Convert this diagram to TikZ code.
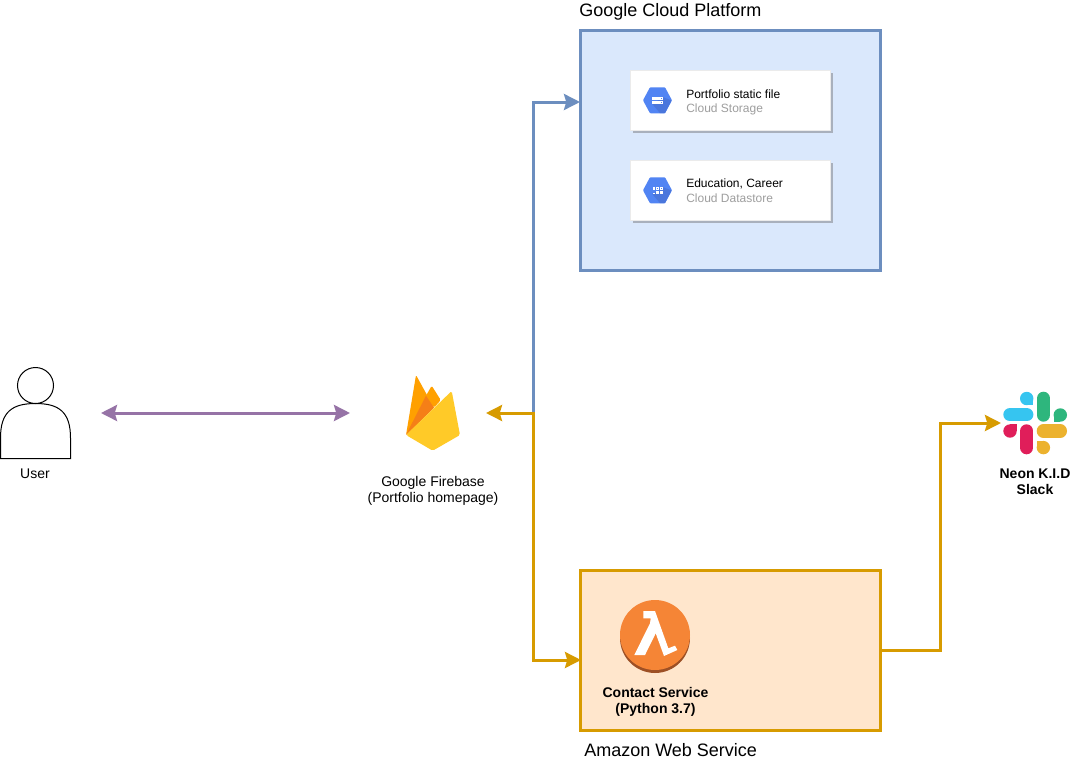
\documentclass[tikz,border=0pt]{standalone}
\usepackage{fontspec}
\setmainfont{Liberation Sans}
\usetikzlibrary{arrows.meta}
\definecolor{gcpfill}{HTML}{DAE8FC}
\definecolor{gcpline}{HTML}{6C8EBF}
\definecolor{awsfill}{HTML}{FFE6CC}
\definecolor{awsline}{HTML}{D79B00}
\definecolor{purp}{HTML}{9673A6}
\definecolor{hexblue}{HTML}{5184F3}
\definecolor{hexdark}{HTML}{4A76DC}
\definecolor{cardshadow}{HTML}{A9B0BC}
\definecolor{greytext}{HTML}{9E9E9E}
\definecolor{lamb}{HTML}{F58536}
\definecolor{lambdark}{HTML}{9D5025}
\definecolor{slackcyan}{HTML}{36C5F0}
\definecolor{slackgreen}{HTML}{2EB67D}
\definecolor{slackred}{HTML}{E01E5A}
\definecolor{slackyellow}{HTML}{ECB22E}
\definecolor{fbamber}{HTML}{FFA000}
\definecolor{fbdeep}{HTML}{F57F17}
\definecolor{fbyellow}{HTML}{FFCA28}
\tikzset{
  x=0.75pt,y=-0.75pt,
  conn/.style={line width=2.25pt,line join=miter},
  oneway/.style={conn,-{Stealth[length=12pt,width=12pt,inset=1.7pt]}},
  twoway/.style={conn,{Stealth[length=12pt,width=12pt,inset=1.7pt]}-{Stealth[length=12pt,width=12pt,inset=1.7pt]}},
  panel/.style={draw,line width=2.25pt,outer sep=0pt,inner sep=0pt,minimum width=225pt},
  card/.style={fill=white,draw=white!92!black,line width=0.4pt,outer sep=0pt,inner sep=0pt,minimum width=150pt,minimum height=45pt},
  shadowbox/.style={fill=cardshadow,draw=none,outer sep=0pt,inner sep=0pt,minimum width=150pt,minimum height=45pt},
  title/.style={font=\fontsize{13.5pt}{16pt}\selectfont,anchor=base west,inner sep=0pt},
  lbl/.style={font=\fontsize{10.5pt}{12pt}\selectfont,align=center,inner sep=0pt},
  boldlbl/.style={font=\fontsize{10.5pt}{12pt}\selectfont\bfseries,align=center,inner sep=0pt},
  cardtop/.style={font=\fontsize{9pt}{10pt}\selectfont,anchor=base west,inner sep=0pt},
  cardsub/.style={font=\fontsize{9pt}{10pt}\selectfont,anchor=base west,inner sep=0pt,text=greytext},
  ghost/.style={inner sep=0pt,outer sep=0pt},
  pill/.style={line width=10.05pt,line cap=round},
}
\newcommand{\hexbase}{%
  \fill[hexblue,rounded corners=0.6pt] (643,100.3)--(650,87.3)--(665,87.3)--(672,100.3)--(665,113.3)--(650,113.3)--cycle;
  \fill[hexdark] (663,97.3)--(671.5,100.3)--(665,113.1)--(660,113.1)--(652.3,104)--cycle;
}
\begin{document}
\begin{tikzpicture}
\useasboundingbox (0,0) rectangle (1071,761);
\fill[white] (0,0) rectangle (1071,761);

% panels
\node[panel,draw=gcpline,fill=gcpfill,minimum height=180pt] (gcp) at (730.5,150.5) {};
\node[panel,draw=awsline,fill=awsfill,minimum height=120pt] (aws) at (730.5,650.5) {};
\node[title] (gcptitle) at (579,16) {Google Cloud Platform};
\node[title] (awstitle) at (584,756) {Amazon Web Service};

% cards
\node[shadowbox] (shadeA) at (732.5,103) {};
\node[card] (cardA) at (730.5,100.5) {};
\node[shadowbox] (shadeB) at (732.5,193) {};
\node[card] (cardB) at (730.5,190.5) {};
\hexbase
\fill[white] (652.3,97.3) rectangle (663,100.3);
\fill[white] (652.3,100.9) rectangle (663,104);
\fill[hexblue] (660.5,98.3) rectangle (661.7,99.3);
\fill[hexblue] (660.5,102) rectangle (661.7,103);
\begin{scope}[shift={(0,90)}]
\hexbase
\foreach \gx/\gy in {652.5/96.8,656.3/96.8,660.1/96.8,652.5/100.7,656.3/100.7,660.1/100.7}{
  \fill[white] (\gx,\gy) rectangle ++(2.8,2.8);
}
\fill[hexblue] (657,97.5) rectangle ++(1.4,1.4);
\fill[hexblue] (660.8,97.5) rectangle ++(1.4,1.4);
\fill[hexblue] (653.2,101.4) rectangle ++(1.4,1.4);
\end{scope}
\node[cardtop] (cardAtop) at (686,98) {Portfolio static file};
\node[cardsub] (cardAsub) at (686,112) {Cloud Storage};
\node[cardtop] (cardBtop) at (686,187.5) {Education, Career};
\node[cardsub] (cardBsub) at (686,202) {Cloud Datastore};

% user
\node[ghost,minimum width=53.25pt,minimum height=69pt] (user) at (35.5,413) {};
\draw[black,line width=0.75pt] (35.5,385.5) circle (18);
\draw[black,line width=0.75pt] (0.5,458.5) -- (0.5,438) .. controls (0.5,412) and (12,403.5) .. (35.5,403.5)
   .. controls (59,403.5) and (70.5,412) .. (70.5,438) -- (70.5,458.5) -- cycle;
\node[lbl] (userlbl) at (35,473.5) {User};

% firebase
\node[ghost,minimum width=102pt,minimum height=57pt] (fb) at (418,413) {};
\fill[fbamber,rounded corners=1pt] (406,435) -- (416,375) -- (434,407.7) -- cycle;
\fill[fbamber,rounded corners=1pt] (426,395.7) -- (431.7,385.7) -- (440.7,400) -- (434,407.7) -- cycle;
\fill[fbdeep] (406,435) -- (426,395.7) -- (434,407.7) -- cycle;
\fill[fbyellow,rounded corners=1.2pt] (406,435) -- (451.7,391) -- (460,435) -- (432.7,450.7) -- cycle;
\node[lbl] (fblbl) at (433,490.5) {Google Firebase\\(Portfolio homepage)};

% lambda
\node[ghost,minimum width=52.5pt,minimum height=52.5pt] (lambdaicon) at (655,636) {};
\fill[lambdark] (655,638) circle (35);
\fill[lamb] (655,635) circle (35);
\fill[white] (643.3,611) -- (655,611) -- (668.3,648.3) -- (675,645.7) -- (677.3,650) -- (664,656)
  -- (655.7,633.3) -- (645,655) -- (634.3,655) -- (650,623.3) -- (650.7,618.3) -- (643.3,618.3) -- cycle;
\node[boldlbl] (lamlbl) at (655.5,701.5) {Contact Service\\(Python 3.7)};

% slack
\node[ghost,minimum width=51pt,minimum height=48pt] (slack) at (1035,423) {};
\draw[pill,slackcyan] (1010,414.7) -- (1026.7,414.7);
\fill[slackcyan] (1026.7,398.5) circle (6.7);
\fill[slackcyan] (1026.7,398.5) rectangle (1033.4,405.2);
\draw[pill,slackgreen] (1043.4,398.4) -- (1043.4,415);
\fill[slackgreen] (1060.3,415) circle (6.7);
\fill[slackgreen] (1053.6,415) rectangle (1060.3,421.7);
\draw[pill,slackyellow] (1043.4,431) -- (1060.3,431);
\fill[slackyellow] (1043.4,447.6) circle (6.7);
\fill[slackyellow] (1036.7,440.9) rectangle (1043.4,447.6);
\draw[pill,slackred] (1026.7,431) -- (1026.7,447.6);
\fill[slackred] (1010,431) circle (6.7);
\fill[slackred] (1010,424.3) rectangle (1016.7,431);
\node[boldlbl] (slacklbl) at (1035,481.5) {Neon K.I.D\\Slack};

% connector helpers
\coordinate (junc) at (533,413);
\coordinate (gcpin) at (580,102);
\coordinate (awsin) at (581,660);
\coordinate (awsout) at (881,650.5);
\coordinate (rise) at (940.5,650.5);

% connectors
\draw[twoway,purp,shorten <=22.5pt] (user.east) -- (fb.west);
\draw[oneway,gcpline,shorten <=22.5pt] (fb.east) -- (junc) |- (gcpin);
\draw[twoway,awsline] (fb.east) -- (junc) |- (awsin);
\draw[oneway,awsline] (awsout) -- (rise) |- (slack.west);
\end{tikzpicture}
\end{document}
